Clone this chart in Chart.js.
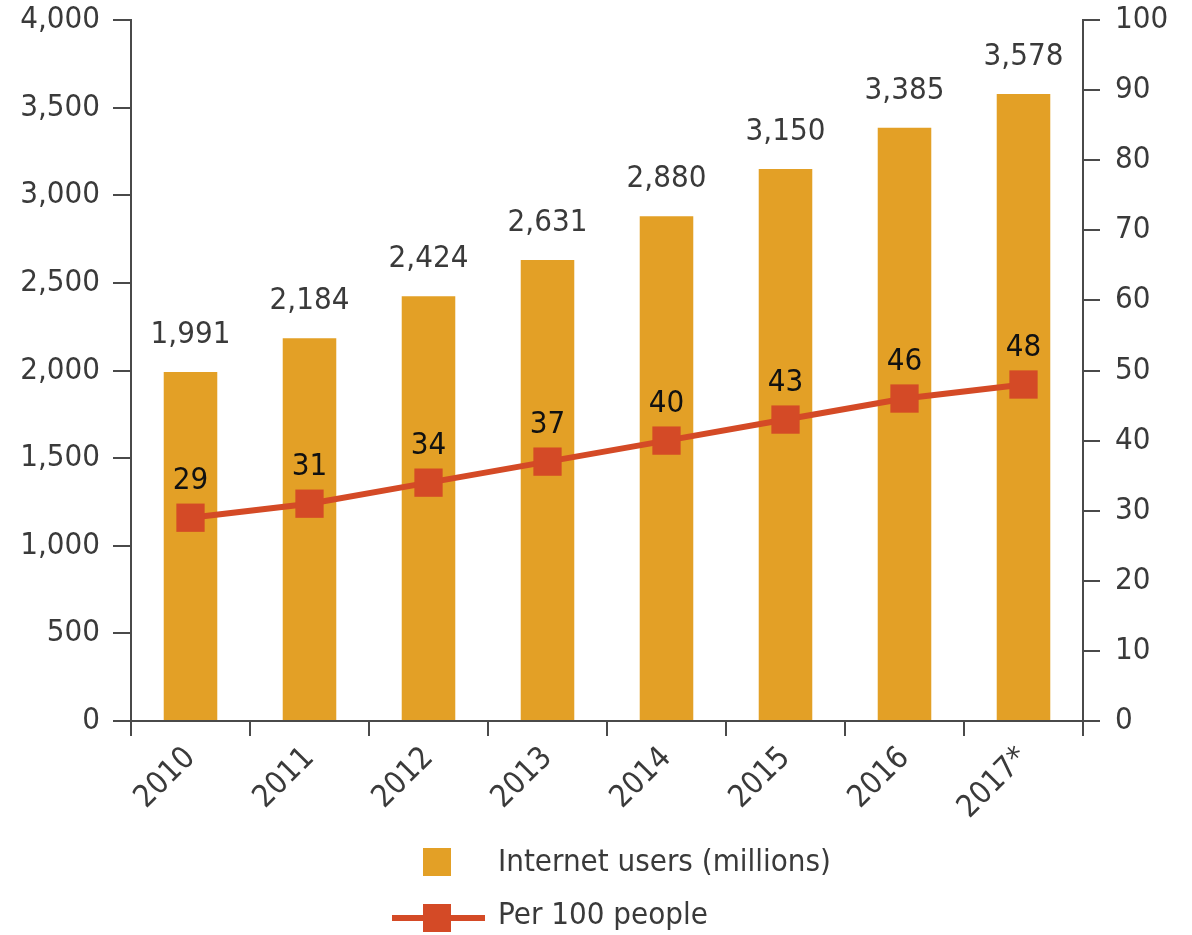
<!DOCTYPE html>
<html>
<head>
<meta charset="utf-8">
<title>Internet users</title>
<script src="https://cdn.jsdelivr.net/npm/chart.js@4/dist/chart.umd.min.js"></script>
<style>
    body { margin: 0; background: #fff; }
    #wrap { position: relative; width: 1192px; height: 935px; }
</style>
</head>
<body>
<div id="wrap"><canvas id="usersChart"></canvas></div>
<script>
// Chart data
const years = ['2010', '2011', '2012', '2013', '2014', '2015', '2016', '2017*'];
const usersMillions = [1991, 2184, 2424, 2631, 2880, 3150, 3385, 3578];
const per100People = [29, 31, 34, 37, 40, 43, 46, 48];
const seriesNames = ['Internet users (millions)', 'Per 100 people'];

const FONT = "'Liberation Sans Narrow', 'DejaVu Sans Condensed', 'Roboto Condensed', sans-serif";
const FONT_SIZE = 31;
const BAR_COLOR = '#E3A026';
const LINE_COLOR = '#D44A26';
const AXIS_COLOR = '#4a4a4a';
const TEXT_COLOR = '#3a3a3a';

// Value labels above bars and line points
const valueLabels = {
    id: 'valueLabels',
    afterDatasetsDraw(chart) {
        const ctx = chart.ctx;
        ctx.save();
        ctx.font = FONT_SIZE + 'px ' + FONT;
        ctx.textAlign = 'center';
        ctx.textBaseline = 'alphabetic';
        chart.data.datasets.forEach((ds, i) => {
            const meta = chart.getDatasetMeta(i);
            meta.data.forEach((el, j) => {
                const v = ds.data[j];
                if (ds.type === 'bar') {
                    ctx.fillStyle = TEXT_COLOR;
                    ctx.fillText(v.toLocaleString('en-US'), el.x, el.y - 29);
                } else {
                    ctx.fillStyle = '#111';
                    ctx.fillText(String(v), el.x, el.y - 29);
                }
            });
        });
        ctx.restore();
    }
};

// Legend drawn below the axis
const bottomLegend = {
    id: 'bottomLegend',
    afterDraw(chart) {
        const ctx = chart.ctx;
        ctx.save();
        ctx.font = FONT_SIZE + 'px ' + FONT;
        ctx.textBaseline = 'middle';

        ctx.fillStyle = BAR_COLOR;
        ctx.fillRect(423, 848, 28, 28);
        ctx.fillStyle = TEXT_COLOR;
        ctx.fillText(seriesNames[0], 498, 863);

        ctx.strokeStyle = LINE_COLOR;
        ctx.lineWidth = 6;
        ctx.beginPath();
        ctx.moveTo(392, 918);
        ctx.lineTo(485, 918);
        ctx.stroke();
        ctx.fillStyle = LINE_COLOR;
        ctx.fillRect(423, 904, 28, 28);
        ctx.fillStyle = TEXT_COLOR;
        ctx.fillText(seriesNames[1], 498, 916);
        ctx.restore();
    }
};

// Fixed axis widths, no extra label padding above the plot
function fitY(width) {
    return function (scale) {
        scale.width = width;
        scale.paddingTop = 0;
        scale.paddingBottom = 0;
    };
}

const ctx = document.getElementById('usersChart').getContext('2d');

new Chart(ctx, {
    data: {
        labels: years,
        datasets: [
            {
                type: 'line',
                label: seriesNames[1],
                data: per100People,
                yAxisID: 'yRight',
                borderColor: LINE_COLOR,
                backgroundColor: LINE_COLOR,
                borderWidth: 6,
                pointStyle: 'rect',
                pointRadius: 20,
                pointBorderWidth: 0,
                pointBackgroundColor: LINE_COLOR,
                tension: 0,
                order: 0
            },
            {
                type: 'bar',
                label: seriesNames[0],
                data: usersMillions,
                yAxisID: 'yLeft',
                backgroundColor: BAR_COLOR,
                barPercentage: 0.45,
                categoryPercentage: 1,
                order: 1
            }
        ]
    },
    options: {
        responsive: true,
        maintainAspectRatio: false,
        animation: false,
        layout: { padding: { top: 20, left: 0, right: 0, bottom: 0 } },
        plugins: {
            legend: { display: false },
            tooltip: { enabled: false }
        },
        scales: {
            x: {
                z: 1,
                offset: true,
                border: { color: AXIS_COLOR, width: 2 },
                grid: {
                    offset: true,
                    drawOnChartArea: false,
                    color: AXIS_COLOR,
                    lineWidth: 2,
                    tickLength: 15
                },
                ticks: {
                    color: TEXT_COLOR,
                    font: { family: FONT, size: FONT_SIZE },
                    minRotation: 45,
                    maxRotation: 45,
                    padding: 4
                },
                afterFit(scale) { scale.height = 214; }
            },
            yLeft: {
                position: 'left',
                min: 0,
                max: 4000,
                border: { color: AXIS_COLOR, width: 2 },
                grid: {
                    drawOnChartArea: false,
                    color: AXIS_COLOR,
                    lineWidth: 2,
                    tickLength: 18
                },
                ticks: {
                    stepSize: 500,
                    color: TEXT_COLOR,
                    font: { family: FONT, size: FONT_SIZE },
                    padding: 13,
                    callback: v => v.toLocaleString('en-US')
                },
                afterFit: fitY(131)
            },
            yRight: {
                position: 'right',
                min: 0,
                max: 100,
                border: { color: AXIS_COLOR, width: 2 },
                grid: {
                    drawOnChartArea: false,
                    color: AXIS_COLOR,
                    lineWidth: 2,
                    tickLength: 17
                },
                ticks: {
                    stepSize: 10,
                    color: TEXT_COLOR,
                    font: { family: FONT, size: FONT_SIZE },
                    padding: 15
                },
                afterFit: fitY(109)
            }
        }
    },
    plugins: [valueLabels, bottomLegend]
});
</script>
</body>
</html>
